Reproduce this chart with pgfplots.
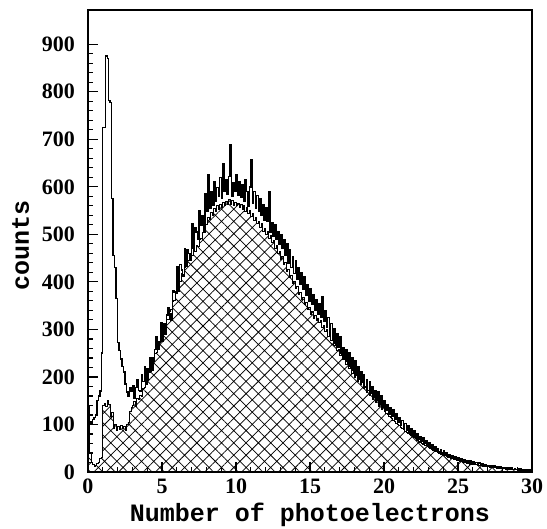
\documentclass[border=0pt]{standalone}
\usepackage{fontspec}
\setmainfont{Liberation Serif}
\newfontfamily\labfont{Liberation Mono}
\usepackage{pgfplots}
\usepackage{pgfplotstable}
\pgfplotsset{compat=1.18}
\usetikzlibrary{patterns.meta}

\pgfplotstableread[row sep=\\]{
x y\\
0.0 140\\ 0.1 105\\ 0.2 100\\ 0.3 110\\ 0.4 115\\ 0.5 120\\ 0.6 150\\ 0.7 160\\ 0.8 170\\ 0.9 250\\
1.0 725\\ 1.1 725\\ 1.2 875\\ 1.3 870\\ 1.4 782\\ 1.5 778\\ 1.6 575\\ 1.7 455\\ 1.8 430\\ 1.9 365\\
2.0 272\\ 2.1 255\\ 2.2 238\\ 2.3 222\\ 2.4 210\\ 2.5 185\\ 2.6 168\\ 2.7 160\\ 2.8 178\\ 2.9 170\\
3.0 182\\ 3.1 156\\ 3.2 178\\ 3.3 195\\ 3.4 172\\ 3.5 170\\ 3.6 205\\ 3.7 190\\ 3.8 222\\ 3.9 185\\
4.0 218\\ 4.1 210\\ 4.2 240\\ 4.3 215\\ 4.4 240\\ 4.5 258\\ 4.6 285\\ 4.7 258\\ 4.8 274\\ 4.9 315\\
5.0 275\\ 5.1 312\\ 5.2 290\\ 5.3 330\\ 5.4 345\\ 5.5 332\\ 5.6 320\\ 5.7 382\\ 5.8 378\\ 5.9 375\\
6.0 432\\ 6.1 380\\ 6.2 436\\ 6.3 425\\ 6.4 412\\ 6.5 470\\ 6.6 432\\ 6.7 468\\ 6.8 460\\ 6.9 445\\
7.0 522\\ 7.1 470\\ 7.2 515\\ 7.3 505\\ 7.4 490\\ 7.5 550\\ 7.6 518\\ 7.7 540\\ 7.8 505\\ 7.9 585\\
8.0 548\\ 8.1 625\\ 8.2 555\\ 8.3 590\\ 8.4 562\\ 8.5 610\\ 8.6 570\\ 8.7 598\\ 8.8 580\\ 8.9 620\\
9.0 575\\ 9.1 648\\ 9.2 590\\ 9.3 615\\ 9.4 585\\ 9.5 622\\ 9.6 688\\ 9.7 580\\ 9.8 608\\ 9.9 590\\
10.0 625\\ 10.1 582\\ 10.2 610\\ 10.3 578\\ 10.4 605\\ 10.5 570\\ 10.6 615\\ 10.7 590\\ 10.8 560\\ 10.9 600\\
11.0 658\\ 11.1 565\\ 11.2 590\\ 11.3 555\\ 11.4 582\\ 11.5 548\\ 11.6 575\\ 11.7 540\\ 11.8 562\\ 11.9 530\\
12.0 555\\ 12.1 528\\ 12.2 590\\ 12.3 505\\ 12.4 525\\ 12.5 495\\ 12.6 520\\ 12.7 490\\ 12.8 505\\ 12.9 478\\
13.0 500\\ 13.1 470\\ 13.2 488\\ 13.3 455\\ 13.4 480\\ 13.5 440\\ 13.6 468\\ 13.7 430\\ 13.8 452\\ 13.9 418\\
14.0 445\\ 14.1 405\\ 14.2 430\\ 14.3 395\\ 14.4 420\\ 14.5 385\\ 14.6 410\\ 14.7 372\\ 14.8 395\\ 14.9 360\\
15.0 385\\ 15.1 352\\ 15.2 372\\ 15.3 340\\ 15.4 362\\ 15.5 332\\ 15.6 355\\ 15.7 325\\ 15.8 368\\ 15.9 318\\
16.0 340\\ 16.1 305\\ 16.2 325\\ 16.3 292\\ 16.4 312\\ 16.5 280\\ 16.6 302\\ 16.7 270\\ 16.8 290\\ 16.9 262\\
17.0 285\\ 17.1 250\\ 17.2 262\\ 17.3 238\\ 17.4 258\\ 17.5 232\\ 17.6 250\\ 17.7 222\\ 17.8 240\\ 17.9 215\\
18.0 235\\ 18.1 205\\ 18.2 222\\ 18.3 195\\ 18.4 212\\ 18.5 188\\ 18.6 205\\ 18.7 178\\ 18.8 195\\ 18.9 172\\
19.0 190\\ 19.1 165\\ 19.2 180\\ 19.3 158\\ 19.4 172\\ 19.5 150\\ 19.6 168\\ 19.7 145\\ 19.8 160\\ 19.9 138\\
20.0 150\\ 20.1 130\\ 20.2 142\\ 20.3 122\\ 20.4 136\\ 20.5 118\\ 20.6 132\\ 20.7 110\\ 20.8 122\\ 20.9 104\\
21.0 115\\ 21.1 98\\ 21.2 108\\ 21.3 92\\ 21.4 102\\ 21.5 88\\ 21.6 98\\ 21.7 82\\ 21.8 92\\ 21.9 78\\
22.0 86\\ 22.1 72\\ 22.2 80\\ 22.3 68\\ 22.4 75\\ 22.5 64\\ 22.6 72\\ 22.7 60\\ 22.8 66\\ 22.9 56\\
23.0 62\\ 23.1 52\\ 23.2 58\\ 23.3 48\\ 23.4 54\\ 23.5 45\\ 23.6 50\\ 23.7 42\\ 23.8 47\\ 23.9 40\\
24.0 44\\ 24.1 36\\ 24.2 40\\ 24.3 33\\ 24.4 37\\ 24.5 31\\ 24.6 35\\ 24.7 28\\ 24.8 32\\ 24.9 26\\
25.0 30\\ 25.1 24\\ 25.2 28\\ 25.3 22\\ 25.4 26\\ 25.5 21\\ 25.6 24\\ 25.7 19\\ 25.8 23\\ 25.9 18\\
26.0 22\\ 26.1 16\\ 26.2 20\\ 26.3 15\\ 26.4 19\\ 26.5 14\\ 26.6 17\\ 26.7 13\\ 26.8 16\\ 26.9 12\\
27.0 14\\ 27.1 11\\ 27.2 13\\ 27.3 10\\ 27.4 13\\ 27.5 9\\ 27.6 12\\ 27.7 9\\ 27.8 11\\ 27.9 8\\
28.0 10\\ 28.1 7\\ 28.2 9\\ 28.3 6\\ 28.4 8\\ 28.5 6\\ 28.6 8\\ 28.7 5\\ 28.8 7\\ 28.9 5\\
29.0 6\\ 29.1 4\\ 29.2 6\\ 29.3 4\\ 29.4 5\\ 29.5 3\\ 29.6 5\\ 29.7 3\\ 29.8 4\\ 29.9 3\\
30.0 3\\
}\Atab

\pgfplotstableread[row sep=\\]{
x y\\
0.0 140\\ 0.1 40\\ 0.2 20\\ 0.3 15\\ 0.4 12\\ 0.5 14\\ 0.6 18\\ 0.7 20\\ 0.8 28\\ 0.9 30\\
1.0 140\\ 1.1 145\\ 1.2 138\\ 1.3 150\\ 1.4 142\\ 1.5 118\\ 1.6 125\\ 1.7 92\\ 1.8 100\\ 1.9 88\\
2.0 96\\ 2.1 90\\ 2.2 98\\ 2.3 92\\ 2.4 95\\ 2.5 88\\ 2.6 100\\ 2.7 105\\ 2.8 128\\ 2.9 135\\
3.0 140\\ 3.1 148\\ 3.2 138\\ 3.3 155\\ 3.4 152\\ 3.5 162\\ 3.6 160\\ 3.7 176\\ 3.8 178\\ 3.9 190\\
4.0 192\\ 4.1 210\\ 4.2 212\\ 4.3 228\\ 4.4 232\\ 4.5 250\\ 4.6 252\\ 4.7 270\\ 4.8 272\\ 4.9 288\\
5.0 286\\ 5.1 298\\ 5.2 302\\ 5.3 320\\ 5.4 322\\ 5.5 338\\ 5.6 342\\ 5.7 358\\ 5.8 362\\ 5.9 380\\
6.0 385\\ 6.1 402\\ 6.2 400\\ 6.3 418\\ 6.4 415\\ 6.5 430\\ 6.6 432\\ 6.7 445\\ 6.8 445\\ 6.9 458\\
7.0 455\\ 7.1 468\\ 7.2 464\\ 7.3 476\\ 7.4 474\\ 7.5 490\\ 7.6 492\\ 7.7 505\\ 7.8 506\\ 7.9 520\\
8.0 520\\ 8.1 536\\ 8.2 532\\ 8.3 546\\ 8.4 540\\ 8.5 554\\ 8.6 548\\ 8.7 560\\ 8.8 552\\ 8.9 564\\
9.0 556\\ 9.1 568\\ 9.2 560\\ 9.3 570\\ 9.4 562\\ 9.5 574\\ 9.6 562\\ 9.7 572\\ 9.8 560\\ 9.9 568\\
10.0 560\\ 10.1 566\\ 10.2 556\\ 10.3 562\\ 10.4 552\\ 10.5 560\\ 10.6 548\\ 10.7 556\\ 10.8 544\\ 10.9 550\\
11.0 538\\ 11.1 544\\ 11.2 530\\ 11.3 536\\ 11.4 522\\ 11.5 528\\ 11.6 514\\ 11.7 522\\ 11.8 506\\ 11.9 512\\
12.0 500\\ 12.1 506\\ 12.2 492\\ 12.3 498\\ 12.4 482\\ 12.5 488\\ 12.6 470\\ 12.7 476\\ 12.8 460\\ 12.9 464\\
13.0 448\\ 13.1 454\\ 13.2 436\\ 13.3 440\\ 13.4 422\\ 13.5 426\\ 13.6 410\\ 13.7 414\\ 13.8 396\\ 13.9 400\\
14.0 386\\ 14.1 390\\ 14.2 374\\ 14.3 378\\ 14.4 364\\ 14.5 368\\ 14.6 352\\ 14.7 356\\ 14.8 342\\ 14.9 346\\
15.0 332\\ 15.1 338\\ 15.2 324\\ 15.3 330\\ 15.4 318\\ 15.5 324\\ 15.6 314\\ 15.7 318\\ 15.8 304\\ 15.9 308\\
16.0 296\\ 16.1 300\\ 16.2 286\\ 16.3 290\\ 16.4 276\\ 16.5 278\\ 16.6 266\\ 16.7 268\\ 16.8 256\\ 16.9 258\\
17.0 246\\ 17.1 248\\ 17.2 236\\ 17.3 240\\ 17.4 226\\ 17.5 230\\ 17.6 217\\ 17.7 221\\ 17.8 208\\ 17.9 212\\
18.0 200\\ 18.1 204\\ 18.2 191\\ 18.3 195\\ 18.4 184\\ 18.5 188\\ 18.6 176\\ 18.7 180\\ 18.8 168\\ 18.9 172\\
19.0 161\\ 19.1 165\\ 19.2 153\\ 19.3 157\\ 19.4 146\\ 19.5 150\\ 19.6 139\\ 19.7 143\\ 19.8 132\\ 19.9 136\\
20.0 128\\ 20.1 124\\ 20.2 121\\ 20.3 118\\ 20.4 115\\ 20.5 112\\ 20.6 109\\ 20.7 106\\ 20.8 103\\ 20.9 100\\
21.0 97\\ 21.1 94\\ 21.2 92\\ 21.3 89\\ 21.4 86\\ 21.5 84\\ 21.6 81\\ 21.7 79\\ 21.8 76\\ 21.9 74\\
22.0 72\\ 22.1 70\\ 22.2 67\\ 22.3 65\\ 22.4 63\\ 22.5 61\\ 22.6 59\\ 22.7 57\\ 22.8 55\\ 22.9 53\\
23.0 51\\ 23.1 49\\ 23.2 48\\ 23.3 46\\ 23.4 44\\ 23.5 43\\ 23.6 41\\ 23.7 40\\ 23.8 38\\ 23.9 37\\
24.0 35\\ 24.1 34\\ 24.2 33\\ 24.3 31\\ 24.4 30\\ 24.5 29\\ 24.6 28\\ 24.7 27\\ 24.8 26\\ 24.9 25\\
25.0 24\\ 25.1 23\\ 25.2 22\\ 25.3 21\\ 25.4 20\\ 25.5 20\\ 25.6 19\\ 25.7 18\\ 25.8 17\\ 25.9 17\\
26.0 16\\ 26.1 15\\ 26.2 15\\ 26.3 14\\ 26.4 14\\ 26.5 13\\ 26.6 13\\ 26.7 12\\ 26.8 12\\ 26.9 11\\
27.0 11\\ 27.1 10\\ 27.2 10\\ 27.3 10\\ 27.4 9\\ 27.5 9\\ 27.6 8\\ 27.7 8\\ 27.8 8\\ 27.9 7\\
28.0 7\\ 28.1 7\\ 28.2 6\\ 28.3 6\\ 28.4 6\\ 28.5 6\\ 28.6 5\\ 28.7 5\\ 28.8 5\\ 28.9 5\\
29.0 4\\ 29.1 4\\ 29.2 4\\ 29.3 4\\ 29.4 4\\ 29.5 3\\ 29.6 3\\ 29.7 3\\ 29.8 3\\ 29.9 3\\
30.0 3\\
}\Btab

\begin{document}
\begin{tikzpicture}
\begin{axis}[
  scale only axis, width=444bp, height=462bp,
  xmin=0, xmax=30, ymin=0, ymax=972,
  xtick={0,5,...,30}, ytick={0,100,...,900},
  minor x tick num=4, minor y tick num=4,
  tick pos=left, tick align=inside,
  major tick length=10bp, minor tick length=5bp,
  tick style={line width=1.2bp, black},
  axis line style={line width=1.6bp},
  ticklabel style={font=\fontsize{22bp}{26bp}\selectfont\bfseries},
  /pgf/number format/assume math mode=true,
  xticklabel style={anchor=base, inner sep=0pt, yshift=-21bp},
  yticklabel style={anchor=east, inner sep=0pt, xshift=-13bp},
  xlabel={Number of photoelectrons}, ylabel={counts},
  label style={font=\labfont\bfseries\fontsize{25bp}{30bp}\selectfont},
  xlabel style={at={(axis description cs:0.5,-0.1082)}, anchor=base},
  ylabel style={at={(axis description cs:-0.1329,0.49)}, anchor=base},
  axis on top,
]
\addplot[const plot, draw=black, line width=0.8bp,
  pattern={Hatch[angle=45,distance=8.7bp,line width=0.75bp]}] table {\Btab} \closedcycle;
\addplot[const plot, draw=black, line width=1.4bp] table {\Atab};
\coordinate (O) at (rel axis cs:0,0);
\end{axis}
\pgfresetboundingbox
\path[use as bounding box] (O) ++(-88bp,-57bp) rectangle ++(547bp,529bp);
\end{tikzpicture}
\end{document}
